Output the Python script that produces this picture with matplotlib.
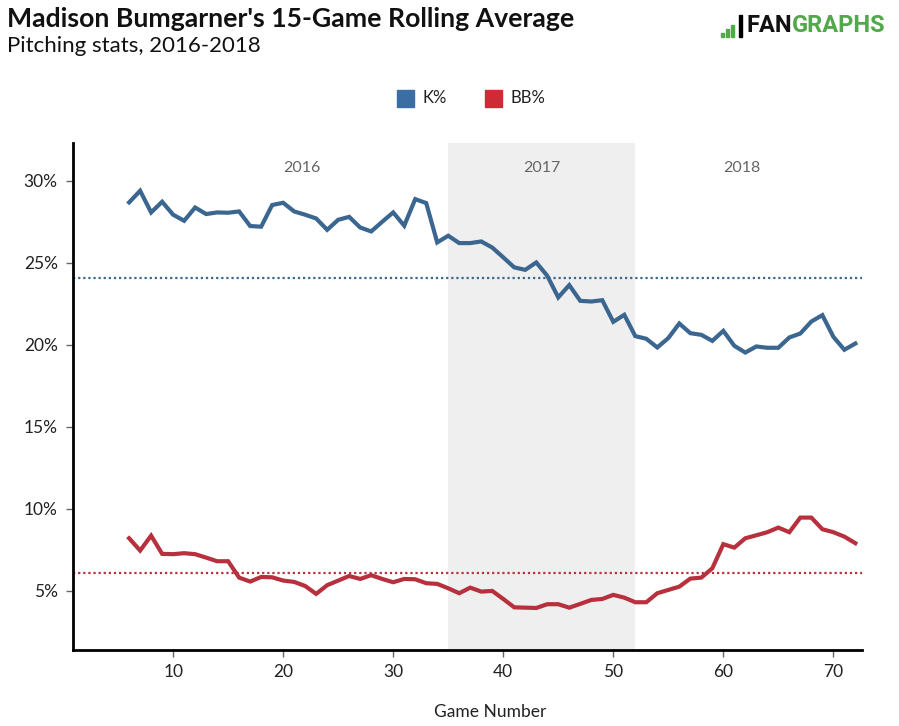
import matplotlib
matplotlib.use("Agg")
import matplotlib.pyplot as plt
from matplotlib.patches import Rectangle
from matplotlib.ticker import FuncFormatter

plt.rcParams['font.family'] = ['Lato', 'DejaVu Sans']

# datos
games = list(range(6, 73))
k_pct = [28.68, 29.39, 28.07, 28.72, 27.93, 27.56, 28.37, 27.97, 28.07, 28.05,
         28.13, 27.24, 27.20, 28.52, 28.66, 28.13, 27.93, 27.70, 27.01, 27.62,
         27.80, 27.15, 26.91, 27.50, 28.07, 27.26, 28.88, 28.64, 26.24, 26.65,
         26.20, 26.20, 26.30, 25.93, 25.33, 24.72, 24.57, 25.02, 24.21, 22.89,
         23.64, 22.68, 22.64, 22.72, 21.40, 21.83, 20.53, 20.37, 19.84, 20.41,
         21.30, 20.71, 20.61, 20.24, 20.85, 19.94, 19.53, 19.90, 19.82, 19.82,
         20.45, 20.69, 21.42, 21.81, 20.49, 19.70, 20.08]
bb_pct = [8.21, 7.46, 8.37, 7.26, 7.24, 7.30, 7.24, 7.03, 6.81, 6.81,
          5.81, 5.57, 5.85, 5.83, 5.63, 5.55, 5.30, 4.82, 5.35, 5.63,
          5.91, 5.73, 5.96, 5.73, 5.53, 5.73, 5.71, 5.47, 5.43, 5.16,
          4.86, 5.20, 4.96, 5.00, 4.51, 4.00, 3.98, 3.96, 4.19, 4.19,
          3.98, 4.21, 4.45, 4.51, 4.76, 4.59, 4.31, 4.31, 4.86, 5.06,
          5.26, 5.75, 5.81, 6.38, 7.85, 7.64, 8.21, 8.39, 8.58, 8.86,
          8.58, 9.47, 9.47, 8.76, 8.58, 8.31, 7.91]
k_avg = 24.1
bb_avg = 6.1
season_2017 = (35, 52)
season_labels = ["2016", "2017", "2018"]
season_label_x = [21.7, 43.5, 61.7]

K_COLOR = "#3a6690"
BB_COLOR = "#b7303d"

fig = plt.figure(figsize=(8.99, 7.26), dpi=100, facecolor="white")
ax = fig.add_axes([0.0812, 0.1047, 0.8776, 0.6983])

# temporada 2017 sombreada
ax.axvspan(season_2017[0], season_2017[1], color="#efefef", zorder=0, lw=0)

# promedios
ax.axhline(k_avg, color=K_COLOR, lw=1.6, ls=(0, (1, 1.3)), zorder=1)
ax.axhline(bb_avg, color=BB_COLOR, lw=1.6, ls=(0, (1, 1.3)), zorder=1)

ax.plot(games, k_pct, color=K_COLOR, lw=3, solid_joinstyle="miter", zorder=3)
ax.plot(games, bb_pct, color=BB_COLOR, lw=3, solid_joinstyle="miter", zorder=3)

for lab, xv in zip(season_labels, season_label_x):
    ax.text(xv, 30.8, lab, ha="center", va="center", color="#666666", fontsize=11.5)

ax.set_xlim(0.9, 72.6)
ax.set_ylim(1.4, 32.3)
ax.set_xticks([10, 20, 30, 40, 50, 60, 70])
ax.set_yticks([5, 10, 15, 20, 25, 30])
ax.yaxis.set_major_formatter(FuncFormatter(lambda v, p: f"{int(v)}%"))

for s in ["top", "right"]:
    ax.spines[s].set_visible(False)
for s in ["left", "bottom"]:
    ax.spines[s].set_linewidth(2)
    ax.spines[s].set_color("black")
ax.tick_params(axis="both", direction="out", length=5, width=1, color="#666666",
               labelsize=12.5, labelcolor="#222222")
ax.tick_params(axis="x", pad=5)
ax.tick_params(axis="y", pad=6)

fig.text(490 / 899, 1 - 712 / 726, "Game Number", ha="center", va="center",
         fontsize=12.5, color="#222222")

# título
fig.text(7 / 899, 1 - 19 / 726, "Madison Bumgarner's 15-Game Rolling Average",
         ha="left", va="center", fontsize=19.2, fontweight="bold", color="#111111")
fig.text(7 / 899, 1 - 46 / 726, "Pitching stats, 2016-2018",
         ha="left", va="center", fontsize=16, color="#111111")

# leyenda
def legend_item(x0, color, label):
    fig.patches.append(Rectangle((x0 / 899, 1 - 107 / 726), 17 / 899, 17 / 726,
                                 transform=fig.transFigure, color=color))
    fig.text((x0 + 25) / 899, 1 - 98 / 726, label, ha="left", va="center",
             fontsize=12, color="#222222")

legend_item(397, "#3a6ea5", "K%")
legend_item(485, "#cf2a36", "BB%")

# logo
green = "#52a84a"
bar_h = [4, 8, 12]
for i, h in enumerate(bar_h):
    fig.patches.append(Rectangle(((721 + i * 5) / 899, 1 - 37 / 726), 3 / 899, h / 726,
                                 transform=fig.transFigure, color=green))
fig.patches.append(Rectangle((739 / 899, 1 - 37 / 726), 3 / 899, 22 / 726,
                             transform=fig.transFigure, color="black"))
t1 = fig.text(746 / 899, 1 - 26 / 726, "FAN", ha="left", va="center",
              fontsize=17, fontweight="bold", color="#111111", family="Roboto")
fig.canvas.draw()
bb = t1.get_window_extent()
fig.text(bb.x1 / 899, 1 - 26 / 726, "GRAPHS", ha="left", va="center",
         fontsize=17, fontweight="bold", color=green, family="Roboto")

fig.savefig("out.png", dpi=100, facecolor="white")
